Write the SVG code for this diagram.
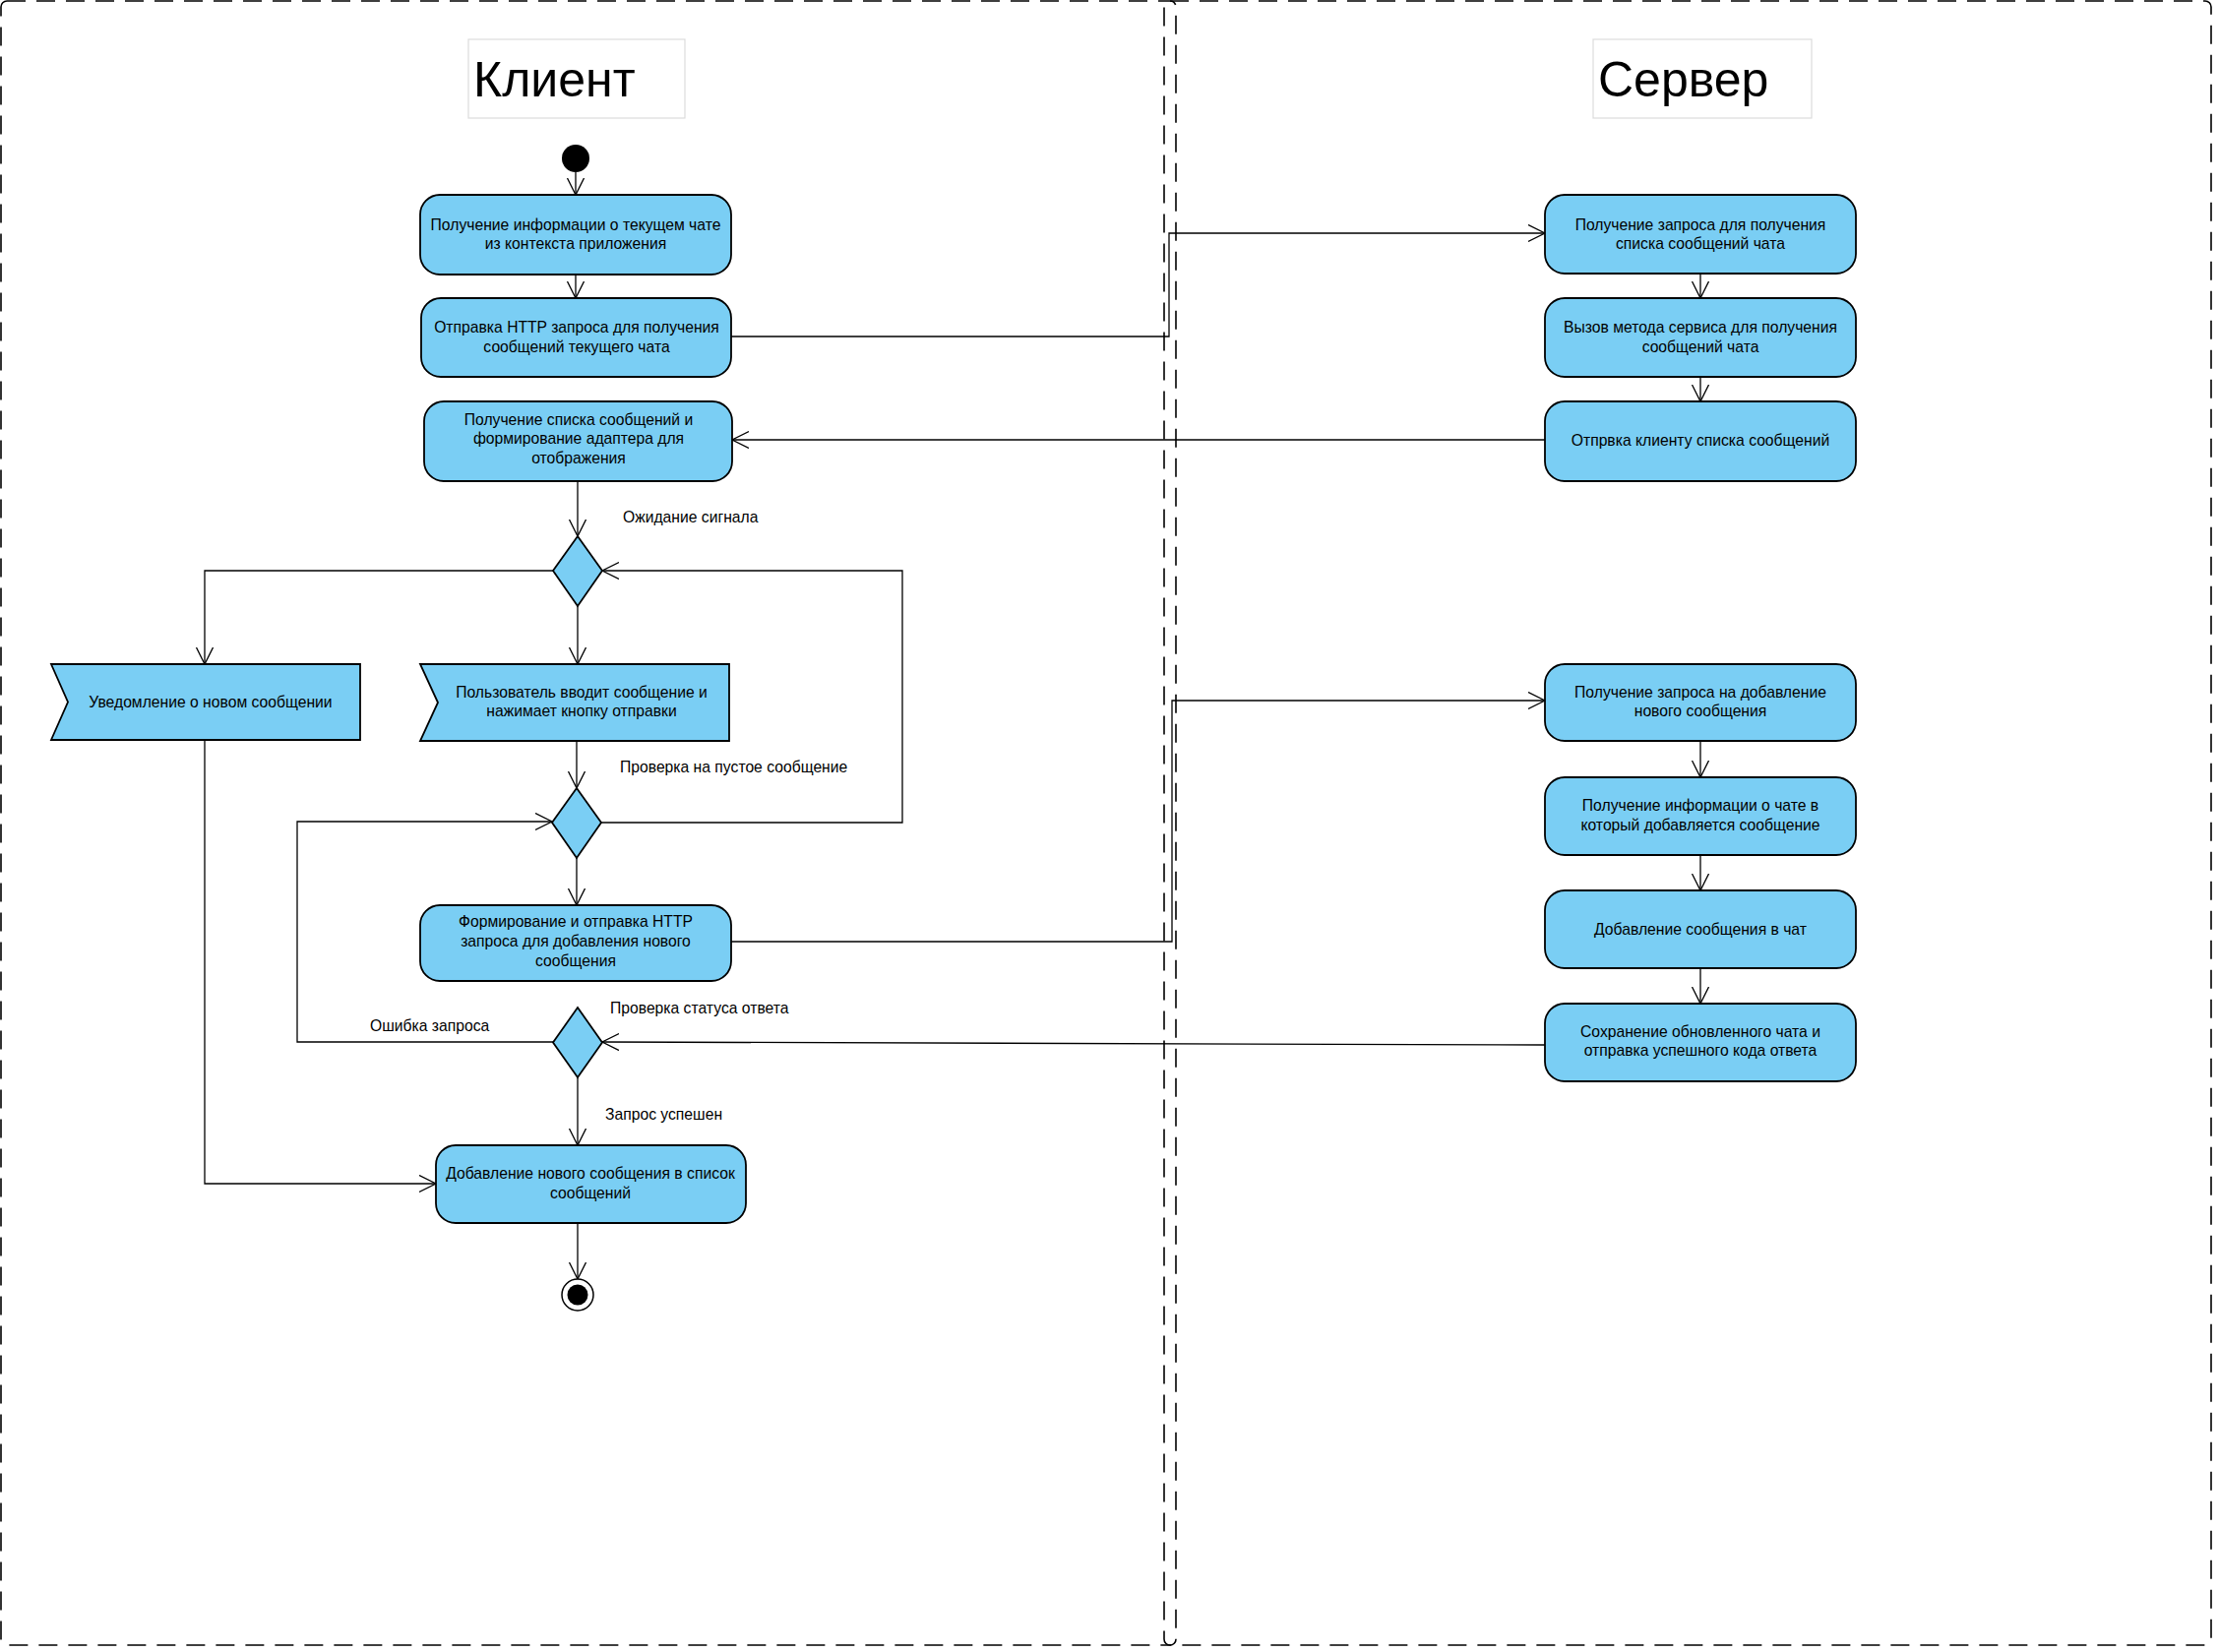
<svg xmlns="http://www.w3.org/2000/svg" width="2255" height="1679" viewBox="0 0 2255 1679">
<style>
.lane{fill:none;stroke:#000;stroke-width:1.6;stroke-dasharray:19 11}
.title{fill:#fff;stroke:#dcdcdc;stroke-width:1.2}
.ttl{font-family:"Liberation Sans",Arial,sans-serif;font-size:50px;fill:#000}
.act{fill:#7ACEF4;stroke:#000;stroke-width:1.8}
.t{font-family:"Liberation Sans",Arial,sans-serif;font-size:15.7px;fill:#000;text-anchor:middle}
.lbl{font-family:"Liberation Sans",Arial,sans-serif;font-size:15.7px;fill:#000}
.c{fill:none;stroke:#000;stroke-width:1.3;marker-end:url(#ah)}
</style>
<defs>
<marker id="ah" markerUnits="userSpaceOnUse" markerWidth="20" markerHeight="20" refX="17" refY="9" orient="auto">
<path d="M0,0.5 L17,9 L0,17.5" fill="none" stroke="#000" stroke-width="1.3"/>
</marker>
</defs>
<rect fill="#fff" x="0" y="0" width="2255" height="1679"/>
<g id="lanes">
<rect class="lane" x="1" y="1" width="1194" height="1671" rx="6"/>
<rect class="lane" x="1183" y="1" width="1064" height="1671" rx="6"/>
</g>
<g id="title-client"><rect class="title" x="476" y="40" width="220" height="80"/><text class="ttl" x="481" y="98">Клиент</text></g>
<g id="title-server"><rect class="title" x="1619" y="40" width="222" height="80"/><text class="ttl" x="1624" y="98">Сервер</text></g>

<g id="connectors">
<path class="c" d="M585,175 L585,198"/>
<path class="c" d="M585,279 L585,303"/>
<path class="c" d="M743,342 L1188,342 L1188,237 L1570,237"/>
<path class="c" d="M1728,278 L1728,303"/>
<path class="c" d="M1728,383 L1728,408"/>
<path class="c" d="M1570,447 L744,447"/>
<path class="c" d="M587,489 L587,545"/>
<path class="c" d="M562,580 L208,580 L208,675"/>
<path class="c" d="M587,616 L587,675"/>
<path class="c" d="M586,753 L586,801"/>
<path class="c" d="M611,836 L917,836 L917,580 L612,580"/>
<path class="c" d="M586,872 L586,920"/>
<path class="c" d="M743,957 L1191,957 L1191,712 L1570,712"/>
<path class="c" d="M1728,753 L1728,790"/>
<path class="c" d="M1728,869 L1728,905"/>
<path class="c" d="M1728,984 L1728,1020"/>
<path class="c" d="M1570,1062 L612,1059"/>
<path class="c" d="M562,1059 L302,1059 L302,835 L561,835"/>
<path class="c" d="M587,1095 L587,1164"/>
<path class="c" d="M208,752 L208,1203 L443,1203"/>
<path class="c" d="M587,1243 L587,1300"/>
</g>

<g id="start"><circle cx="585" cy="161" r="14" fill="#000"/></g>

<g id="n1"><rect class="act" x="427" y="198" width="316" height="81" rx="20"/>
<text class="t" x="585" y="233.5">Получение информации о текущем чате</text>
<text class="t" x="585" y="253.2">из контекста приложения</text></g>

<g id="n2"><rect class="act" x="428" y="303" width="315" height="80" rx="20"/>
<text class="t" x="586" y="338">Отправка HTTP запроса для получения</text>
<text class="t" x="586" y="357.7">сообщений текущего чата</text></g>

<g id="n3"><rect class="act" x="431" y="408" width="313" height="81" rx="20"/>
<text class="t" x="588" y="431.5">Получение списка сообщений и</text>
<text class="t" x="588" y="451.2">формирование адаптера для</text>
<text class="t" x="588" y="470.9">отображения</text></g>

<g id="d1"><polygon class="act" points="587,545 612,580 587,616 562,580"/></g>

<g id="n-notify"><polygon class="act" points="52,675 366,675 366,752 52,752 69,713.5"/>
<text class="t" x="214" y="719">Уведомление о новом сообщении</text></g>

<g id="n-user"><polygon class="act" points="427,675 741,675 741,753 427,753 445,714"/>
<text class="t" x="591" y="708.5">Пользователь вводит сообщение и</text>
<text class="t" x="591" y="728.2">нажимает кнопку отправки</text></g>

<g id="d2"><polygon class="act" points="586,801 611,836 586,872 561,836"/></g>

<g id="n-send"><rect class="act" x="427" y="920" width="316" height="77" rx="20"/>
<text class="t" x="585" y="942.3">Формирование и отправка HTTP</text>
<text class="t" x="585" y="962">запроса для добавления нового</text>
<text class="t" x="585" y="981.7">сообщения</text></g>

<g id="d3"><polygon class="act" points="587,1024 612,1059.5 587,1095 562,1059.5"/></g>

<g id="n-add"><rect class="act" x="443" y="1164" width="315" height="79" rx="20"/>
<text class="t" x="600" y="1198">Добавление нового сообщения в список</text>
<text class="t" x="600" y="1217.7">сообщений</text></g>

<g id="end"><circle cx="587" cy="1316" r="16" fill="#fff" stroke="#000" stroke-width="1.5"/><circle cx="587" cy="1316" r="10.5" fill="#000"/></g>

<g id="s1"><rect class="act" x="1570" y="198" width="316" height="80" rx="20"/>
<text class="t" x="1728" y="233.5">Получение запроса для получения</text>
<text class="t" x="1728" y="253.2">списка сообщений чата</text></g>

<g id="s2"><rect class="act" x="1570" y="303" width="316" height="80" rx="20"/>
<text class="t" x="1728" y="338">Вызов метода сервиса для получения</text>
<text class="t" x="1728" y="357.7">сообщений чата</text></g>

<g id="s3"><rect class="act" x="1570" y="408" width="316" height="81" rx="20"/>
<text class="t" x="1728" y="453">Отпрвка клиенту списка сообщений</text></g>

<g id="s4"><rect class="act" x="1570" y="675" width="316" height="78" rx="20"/>
<text class="t" x="1728" y="708.5">Получение запроса на добавление</text>
<text class="t" x="1728" y="728.2">нового сообщения</text></g>

<g id="s5"><rect class="act" x="1570" y="790" width="316" height="79" rx="20"/>
<text class="t" x="1728" y="824">Получение информации о чате в</text>
<text class="t" x="1728" y="843.7">который добавляется сообщение</text></g>

<g id="s6"><rect class="act" x="1570" y="905" width="316" height="79" rx="20"/>
<text class="t" x="1728" y="949.5">Добавление сообщения в чат</text></g>

<g id="s7"><rect class="act" x="1570" y="1020" width="316" height="79" rx="20"/>
<text class="t" x="1728" y="1053.5">Сохранение обновленного чата и</text>
<text class="t" x="1728" y="1073.2">отправка успешного кода ответа</text></g>

<g id="labels">
<text class="lbl" x="633" y="530.5">Ожидание сигнала</text>
<text class="lbl" x="630" y="785">Проверка на пустое сообщение</text>
<text class="lbl" x="620" y="1029.5">Проверка статуса ответа</text>
<text class="lbl" x="376" y="1048">Ошибка запроса</text>
<text class="lbl" x="615" y="1138">Запрос успешен</text>
</g>
</svg>
